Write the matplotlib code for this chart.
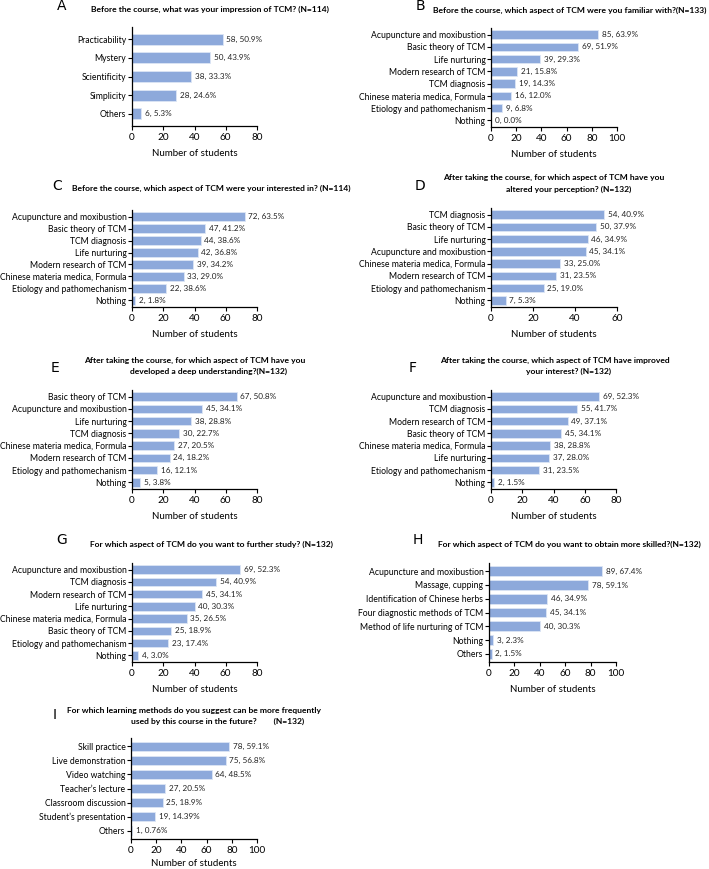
import matplotlib
matplotlib.use("Agg")
import matplotlib.pyplot as plt

# A
cat_a = ["Practicability", "Mystery", "Scientificity", "Simplicity", "Others"]
val_a = [58, 50, 38, 28, 6]
pct_a = ["50.9%", "43.9%", "33.3%", "24.6%", "5.3%"]

# B
cat_b = ["Acupuncture and moxibustion", "Basic theory of TCM", "Life nurturing",
         "Modern research of TCM", "TCM diagnosis", "Chinese materia medica, Formula",
         "Etiology and pathomechanism", "Nothing"]
val_b = [85, 69, 39, 21, 19, 16, 9, 0]
pct_b = ["63.9%", "51.9%", "29.3%", "15.8%", "14.3%", "12.0%", "6.8%", "0.0%"]

# C
cat_c = ["Acupuncture and moxibustion", "Basic theory of TCM", "TCM diagnosis",
         "Life nurturing", "Modern research of TCM", "Chinese materia medica, Formula",
         "Etiology and pathomechanism", "Nothing"]
val_c = [72, 47, 44, 42, 39, 33, 22, 2]
pct_c = ["63.5%", "41.2%", "38.6%", "36.8%", "34.2%", "29.0%", "38.6%", "1.8%"]

# D
cat_d = ["TCM diagnosis", "Basic theory of TCM", "Life nurturing",
         "Acupuncture and moxibustion", "Chinese materia medica, Formula",
         "Modern research of TCM", "Etiology and pathomechanism", "Nothing"]
val_d = [54, 50, 46, 45, 33, 31, 25, 7]
pct_d = ["40.9%", "37.9%", "34.9%", "34.1%", "25.0%", "23.5%", "19.0%", "5.3%"]

# E
cat_e = ["Basic theory of TCM", "Acupuncture and moxibustion", "Life nurturing",
         "TCM diagnosis", "Chinese materia medica, Formula", "Modern research of TCM",
         "Etiology and pathomechanism", "Nothing"]
val_e = [67, 45, 38, 30, 27, 24, 16, 5]
pct_e = ["50.8%", "34.1%", "28.8%", "22.7%", "20.5%", "18.2%", "12.1%", "3.8%"]

# F
cat_f = ["Acupuncture and moxibustion", "TCM diagnosis", "Modern research of TCM",
         "Basic theory of TCM", "Chinese materia medica, Formula", "Life nurturing",
         "Etiology and pathomechanism", "Nothing"]
val_f = [69, 55, 49, 45, 38, 37, 31, 2]
pct_f = ["52.3%", "41.7%", "37.1%", "34.1%", "28.8%", "28.0%", "23.5%", "1.5%"]

# G
cat_g = ["Acupuncture and moxibustion", "TCM diagnosis", "Modern research of TCM",
         "Life nurturing", "Chinese materia medica, Formula", "Basic theory of TCM",
         "Etiology and pathomechanism", "Nothing"]
val_g = [69, 54, 45, 40, 35, 25, 23, 4]
pct_g = ["52.3%", "40.9%", "34.1%", "30.3%", "26.5%", "18.9%", "17.4%", "3.0%"]

# H
cat_h = ["Acupuncture and moxibustion", "Massage, cupping", "Identification of Chinese herbs",
         "Four diagnostic methods of TCM", "Method of life nurturing of TCM",
         "Nothing", "Others"]
val_h = [89, 78, 46, 45, 40, 3, 2]
pct_h = ["67.4%", "59.1%", "34.9%", "34.1%", "30.3%", "2.3%", "1.5%"]

# I
cat_i = ["Skill practice", "Live demonstration", "Video watching", "Teacher\u2019s lecture",
         "Classroom discussion", "Student\u2019s presentation", "Others"]
val_i = [78, 75, 64, 27, 25, 19, 1]
pct_i = ["59.1%", "56.8%", "48.5%", "20.5%", "18.9%", "14.39%", "0.76%"]

W, H = 709, 869
BAR = "#8DA9DB"
FONT = "Lato"
plt.rcParams["font.family"] = [FONT, "DejaVu Sans"]

fig = plt.figure(figsize=(W / 100, H / 100), dpi=100)


def px_axes(x0, x1, y0, y1):
    return fig.add_axes([x0 / W, 1 - y1 / H, (x1 - x0) / W, (y1 - y0) / H])


def panel(box, cats, vals, pcts, xmax, step, pad=0.55, bh=0.7, lp=5):
    ax = px_axes(*box)
    n = len(cats)
    y = list(range(n))
    ax.barh(y, vals, height=bh, color=BAR, edgecolor="#DCE6F5", linewidth=0.6)
    for yi, v, p in zip(y, vals, pcts):
        ax.text(v + xmax * 0.03, yi, f"{v}, {p}", va="center", ha="left",
                fontsize=5.9, color="#222222")
    ax.set_yticks(y)
    ax.set_yticklabels(cats, fontsize=6.2)
    ax.set_ylim(n - 1 + pad, -pad)
    ax.set_xlim(0, xmax)
    ax.set_xticks(range(0, xmax + 1, step))
    ax.tick_params(axis="x", labelsize=7.2, length=3, width=0.8, pad=2)
    ax.tick_params(axis="y", length=3, width=0.8, pad=1)
    for s in ("top", "right"):
        ax.spines[s].set_visible(False)
    for s in ("left", "bottom"):
        ax.spines[s].set_linewidth(0.9)
    ax.set_xlabel("Number of students", fontsize=7, labelpad=lp)
    return ax


def title(x, y, s):
    fig.text(x / W, 1 - y / H, s, ha="center", va="center", fontsize=6.1,
             fontweight="bold")


def letter(x, y, s):
    fig.text(x / W, 1 - y / H, s, ha="center", va="center", fontsize=10,
             family="DejaVu Sans")


panel((132, 257, 27, 126), cat_a, val_a, pct_a, 80, 20, pad=0.65, bh=0.58)
title(210, 9, "Before the course, what was your impression of TCM? (N=114)")
letter(62, 6, "A")

panel((491, 617, 28, 127), cat_b, val_b, pct_b, 100, 20)
title(570, 10, "Before the course, which aspect of TCM were you familiar with?(N=133)")
letter(420, 6, "B")

panel((132, 257, 210, 307), cat_c, val_c, pct_c, 80, 20)
title(211, 188, "Before the course, which aspect of TCM were your interested in? (N=114)")
letter(57, 186, "C")

panel((491, 617, 208, 307), cat_d, val_d, pct_d, 60, 20)
title(554, 177, "After taking the course, for which aspect of TCM have you")
title(569, 189, "altered your perception? (N=132)")
letter(420, 186, "D")

panel((132, 257, 390, 489), cat_e, val_e, pct_e, 80, 20)
title(195, 360, "After taking the course, for which aspect of TCM have you")
title(209, 371, "developed a deep understanding?(N=132)")
letter(55, 368, "E")

panel((491, 616, 390, 489), cat_f, val_f, pct_f, 80, 20)
title(555, 360, "After taking the course, which aspect of TCM have improved")
title(569, 371, "your interest? (N=132)")
letter(413, 368, "F")

panel((132, 257, 563, 662), cat_g, val_g, pct_g, 80, 20)
title(211, 544, "For which aspect of TCM do you want to further study? (N=132)")
letter(62, 540, "G")

panel((489, 616, 563, 662), cat_h, val_h, pct_h, 100, 20, pad=0.6)
title(569, 544, "For which aspect of TCM do you want to obtain more skilled?(N=132)")
letter(418, 540, "H")

panel((131, 257, 738, 839), cat_i, val_i, pct_i, 100, 20, pad=0.6, lp=3)
title(194, 710, "For which learning methods do you suggest can be more frequently")
title(218, 721, "used by this course in the future?        (N=132)")
letter(55, 715, "I")

fig.savefig("out.png", dpi=100, facecolor="white")
